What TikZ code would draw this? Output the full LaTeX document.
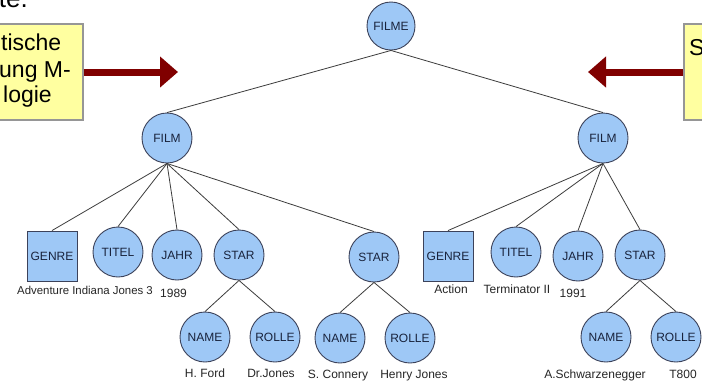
\documentclass[tikz,border=0pt]{standalone}
\usepackage{fontspec}
\setmainfont{Liberation Sans}
\usetikzlibrary{arrows.meta}
\definecolor{nodefill}{RGB}{158,200,246}
\definecolor{nodeborder}{RGB}{60,66,90}
\definecolor{nodetext}{RGB}{25,35,60}
\definecolor{linkcol}{RGB}{60,60,60}
\definecolor{boxfill}{RGB}{255,255,160}
\definecolor{boxborder}{RGB}{150,150,150}
\definecolor{darkred}{RGB}{128,0,0}
\begin{document}
\begin{tikzpicture}[x=1pt,y=-1pt,
  circ/.style={circle, draw=nodeborder, line width=0.9pt, fill=nodefill, minimum size=50pt, inner sep=0pt, text=nodetext, font=\fontsize{12}{14}\selectfont},
  sq/.style={rectangle, draw=nodeborder, line width=0.9pt, fill=nodefill, minimum size=50pt, inner sep=0pt, text=nodetext, font=\fontsize{12}{14}\selectfont},
  lbl/.style={anchor=base, inner sep=0pt, text=black!85, font=\fontsize{12}{14}\selectfont},
  link/.style={draw=linkcol, line width=0.8pt},
  ybox/.style={rectangle, draw=boxborder, line width=1.5pt, fill=boxfill, inner sep=0pt},
  btext/.style={inner sep=0pt, font=\fontsize{23}{27}\selectfont},
  bigarrow/.style={draw=darkred, line width=7pt, -{Triangle[length=18pt,width=30pt]}}
]
\clip (0,0) rectangle (702,384);
\fill[white] (0,0) rectangle (702,384);

% top-left cut text
\node[btext, anchor=base east, font=\fontsize{26}{30}\selectfont] (toptxt) at (28,7) {te.};

% yellow boxes
\node[ybox, minimum width=103pt, minimum height=96pt] (lbox) at (31.5,72) {};
\node[btext, anchor=base west] (l1) at (1,50) {tische};
\node[btext, anchor=base west] (l2) at (-1,77) {ung M-};
\node[btext, anchor=base west] (l3) at (3,102) {logie};
\node[ybox, minimum width=60pt, minimum height=96pt, anchor=west] (rbox) at (683,72) {};
\node[btext, anchor=base west] (r1) at (689,55) {S};

\coordinate (ltip) at (178,72);
\coordinate (rtip) at (588,72);
\draw[bigarrow] (lbox.east) -- (ltip);
\draw[bigarrow] (rbox.west) -- (rtip);

% tree nodes
\node[circ, minimum size=48pt] (filme) at (391,26) {FILME};
\node[circ] (film1) at (167,138) {FILM};
\node[circ] (film2) at (603,138) {FILM};

\node[sq] (genre1) at (52,256) {GENRE};
\node[circ] (titel1) at (118,252) {TITEL};
\node[circ] (jahr1) at (177,255) {JAHR};
\node[circ] (star1) at (239,255) {STAR};
\node[circ] (star2) at (374,257) {STAR};
\node[sq] (genre2) at (448,256) {GENRE};
\node[circ] (titel2) at (516,252) {TITEL};
\node[circ] (jahr2) at (578,256) {JAHR};
\node[circ] (star3) at (640,255) {STAR};

\node[circ] (name1) at (205,337) {NAME};
\node[circ] (rolle1) at (275,337) {ROLLE};
\node[circ] (name2) at (340,338) {NAME};
\node[circ] (rolle2) at (410,338) {ROLLE};
\node[circ] (name3) at (606,337) {NAME};
\node[circ] (rolle3) at (676,337) {ROLLE};

% connectors
\draw[link] (filme.south) -- (film1.north);
\draw[link] (filme.south) -- (film2.north);
\foreach \c in {genre1,titel1,jahr1,star1,star2}
  \draw[link] (film1.south) -- (\c.north);
\foreach \c in {genre2,titel2,jahr2,star3}
  \draw[link] (film2.south) -- (\c.north);
\draw[link] (star1.south) -- (name1.north);
\draw[link] (star1.south) -- (rolle1.north);
\draw[link] (star2.south) -- (name2.north);
\draw[link] (star2.south) -- (rolle2.north);
\draw[link] (star3.south) -- (name3.north);
\draw[link] (star3.south) -- (rolle3.north);

% value labels
\node[lbl, anchor=base west, font=\fontsize{11.4}{13}\selectfont] (v1) at (17,294) {Adventure Indiana Jones 3};
\node[lbl, anchor=base west] (v2) at (160,297) {1989};
\node[lbl] (v3) at (451,293) {Action};
\node[lbl] (v4) at (517,293) {Terminator II};
\node[lbl] (v5) at (573,297) {1991};
\node[lbl] (v6) at (205,377) {H. Ford};
\node[lbl] (v7) at (271,377) {Dr.Jones};
\node[lbl] (v8) at (338,378) {S. Connery};
\node[lbl] (v9) at (414,378) {Henry Jones};
\node[lbl] (v10) at (595,378) {A.Schwarzenegger};
\node[lbl] (v11) at (683,378) {T800};
\end{tikzpicture}
\end{document}
